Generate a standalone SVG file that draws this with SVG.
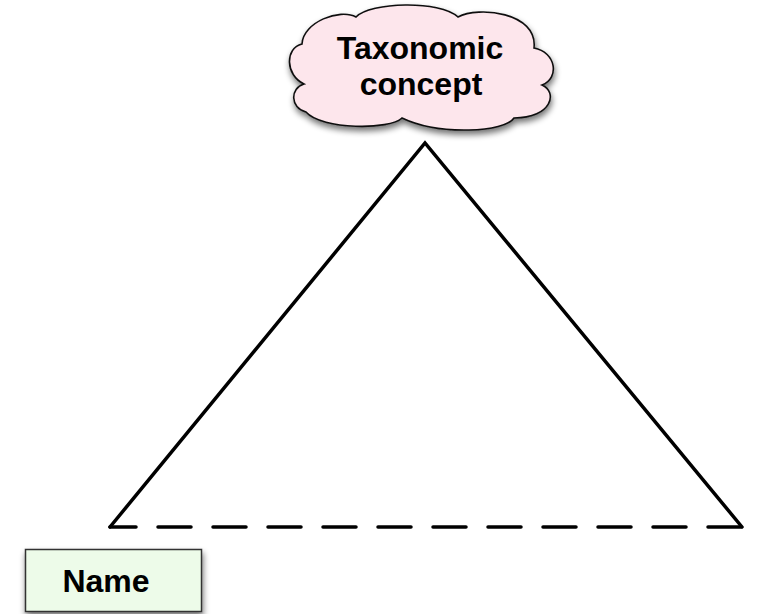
<svg xmlns="http://www.w3.org/2000/svg" width="761" height="614" viewBox="0 0 761 614">
  <style>
    .label { font-family: "Liberation Sans", Arial, sans-serif; font-weight: bold; font-size: 32px; fill: #000; text-anchor: middle; }
    .edge { fill: none; stroke: #000; stroke-width: 3.5; stroke-linecap: round; stroke-linejoin: miter; }
    .dashed { stroke-dasharray: 33 22; stroke-dashoffset: 7; }
  </style>
  <defs>
    <filter id="shadow" x="-20%" y="-20%" width="140%" height="150%">
      <feGaussianBlur in="SourceAlpha" stdDeviation="3"/>
      <feOffset dx="1" dy="4" result="blur"/>
      <feComponentTransfer><feFuncA type="linear" slope="0.55"/></feComponentTransfer>
      <feMerge><feMergeNode/><feMergeNode in="SourceGraphic"/></feMerge>
    </filter>
  </defs>
  <rect width="761" height="614" fill="#fff"/>

  <!-- connectors: triangle sides and dashed base -->
  <g id="connectors">
    <path class="edge" d="M110 527 L425 143 L742 527"/>
    <line class="edge dashed" x1="110" y1="527" x2="742" y2="527"/>
  </g>

  <g id="concept">
    <path filter="url(#shadow)" fill="#fde6ec" stroke="#111" stroke-width="1.6"
      d="M302 44 C303 22 340 8 356 17 C370 2 440 0 458 17 C478 6 538 12 534 48 C556 52 560 78 542 85 C558 92 552 118 514 118 C505 132 440 136 402 118 C390 130 322 130 306 112 C290 108 290 88 304 84 C285 75 285 48 302 44 Z"/>
    <text class="label" x="420" y="59">Taxonomic</text>
    <text class="label" x="421" y="95">concept</text>
  </g>

  <g id="name">
    <rect filter="url(#shadow)" x="25.5" y="549.5" width="176" height="62" fill="#edfbe9" stroke="#333" stroke-width="1.5"/>
    <text class="label" x="106" y="592">Name</text>
  </g>
</svg>
